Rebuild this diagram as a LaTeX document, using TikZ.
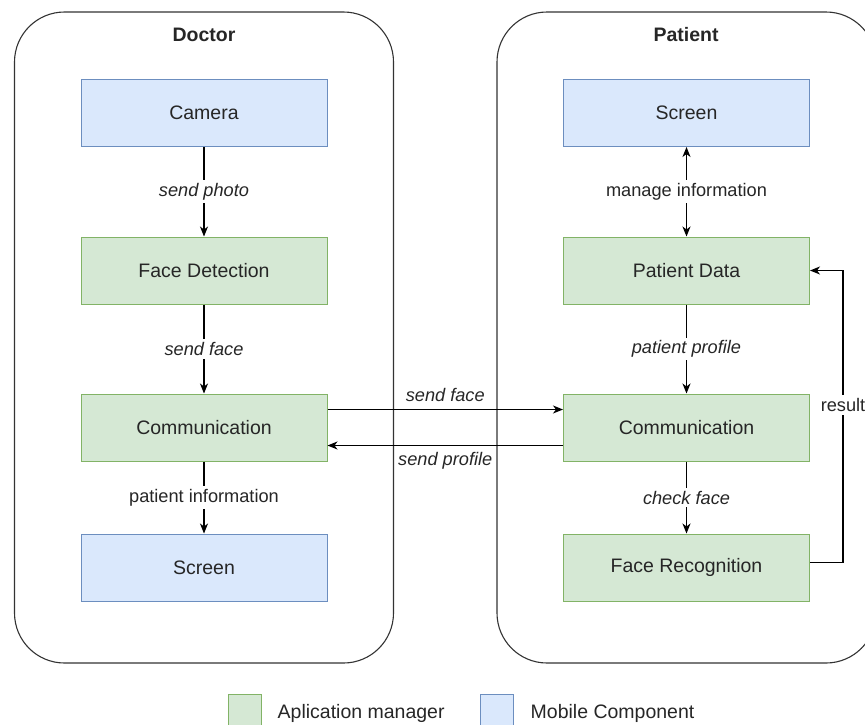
\documentclass[tikz,border=0pt]{standalone}
\usepackage{fontspec}
\setmainfont{Liberation Sans}
\usetikzlibrary{arrows.meta}
\definecolor{appfill}{HTML}{D5E8D4}
\definecolor{appline}{HTML}{82B366}
\definecolor{mobfill}{HTML}{DAE8FC}
\definecolor{mobline}{HTML}{6C8EBF}
\tikzset{
  side/.style={rectangle,draw=black!80,line width=1.1pt,rounded corners=50pt,minimum width=379pt,minimum height=651pt},
  app/.style={rectangle,draw=appline,fill=appfill,line width=1pt,minimum width=246pt,minimum height=67pt,font=\fontsize{19.5}{23}\selectfont},
  mob/.style={rectangle,draw=mobline,fill=mobfill,line width=1pt,minimum width=246pt,minimum height=67pt,font=\fontsize{19.5}{23}\selectfont},
  lbl/.style={fill=white,inner sep=3pt,font=\fontsize{18.2}{21}\selectfont\itshape},
  plainlbl/.style={fill=white,inner sep=3pt,font=\fontsize{18.2}{21}\selectfont},
  key/.style={rectangle,line width=1pt,minimum size=33pt}
}

\begin{document}
\begin{tikzpicture}[x=1pt,y=-1pt,inner sep=0pt,text=black!85,>={Stealth[length=10pt,width=8pt,inset=3pt]}]
\clip (0,0) rectangle (865,724);
%Containers
\node at (204,337.5) [side] (Doctor) {};
\node at (686.5,337.5) [side] (Patient) {};
\node at (204,35) [font=\fontsize{19.5}{23}\selectfont\bfseries] (DoctorTitle) {Doctor};
\node at (686,35) [font=\fontsize{19.5}{23}\selectfont\bfseries] (PatientTitle) {Patient};

%Doctor Boxes
\node at (204,113) [mob] (Camera) {Camera};
\node at (204,270.5) [app] (FaceDet) {Face Detection};
\node at (204,427.5) [app] (DocComm) {Communication};
\node at (204,567.5) [mob] (DocScreen) {Screen};

%Patient Boxes
\node at (686.5,113) [mob] (PatScreen) {Screen};
\node at (686.5,270.5) [app] (PatData) {Patient Data};
\node at (686.5,427.5) [app] (PatComm) {Communication};
\node at (686.5,567.5) [app] (FaceRec) {Face Recognition};

%Connections
\draw [->,line width=1.1pt] (Camera) -- node[lbl]{send photo} (FaceDet);
\draw [->,line width=1.1pt] (FaceDet) -- node[lbl]{send face} (DocComm);
\draw [->,line width=1.1pt] (DocComm) -- node[plainlbl]{patient information} (DocScreen);
\draw [<->,line width=1.1pt] (PatScreen) -- node[plainlbl]{manage information} (PatData);
\draw [->,line width=1.1pt] (PatData) -- node[lbl]{patient profile} (PatComm);
\draw [->,line width=1.1pt] (PatComm) -- node[lbl]{check face} (FaceRec);
\draw [->,line width=1.1pt] ([yshift=18pt]DocComm.east) -- node[above=7.5pt,font=\fontsize{18.2}{21}\selectfont\itshape]{send face} ([yshift=18pt]PatComm.west);
\draw [->,line width=1.1pt] ([yshift=-18pt]PatComm.west) -- node[below=6.5pt,font=\fontsize{18.2}{21}\selectfont\itshape]{send profile} ([yshift=-18pt]DocComm.east);
% Result Loop
\draw [->,line width=1.1pt] ([yshift=5pt]FaceRec.east) -| node[plainlbl,pos=0.77]{result} ([xshift=33pt]PatData.east) -- (PatData.east);

%Legend
\node at (244.5,710.5) [key,draw=appline,fill=appfill] (AppKey) {};
\node at (496.5,710.5) [key,draw=mobline,fill=mobfill] (MobKey) {};
\node [right=16pt,yshift=-3pt,font=\fontsize{19.5}{23}\selectfont] at (AppKey.east) {Aplication manager};
\node [right=17pt,yshift=-3pt,font=\fontsize{19.5}{23}\selectfont] at (MobKey.east) {Mobile Component};
\end{tikzpicture}
\end{document}
